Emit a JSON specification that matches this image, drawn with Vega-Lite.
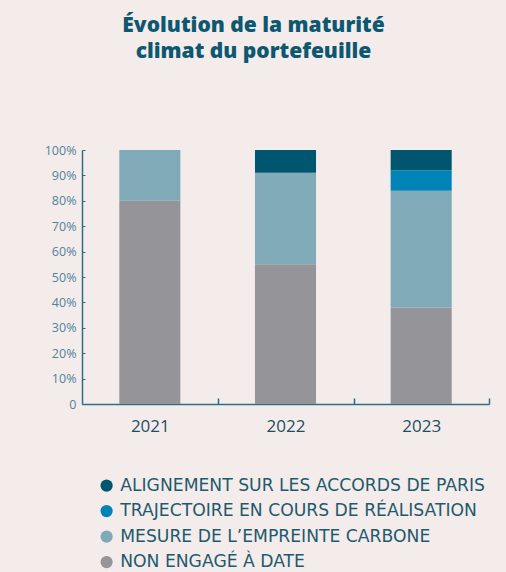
{
  "$schema": "https://vega.github.io/schema/vega-lite/v6.json",
  "autosize": "none",
  "width": 407,
  "height": 254,
  "padding": {"left": 82, "top": 150, "right": 17, "bottom": 168},
  "background": "#f4ecea",
  "title": {
    "text": ["Évolution de la maturité", "climat du portefeuille"],
    "anchor": "middle",
    "dx": -32,
    "offset": 82,
    "fontSize": 21,
    "lineHeight": 26,
    "font": "Open Sans",
    "fontWeight": 800,
    "color": "#0d5870"
  },
  "data": {
    "values": [
      {"annee": "2021", "categorie": "NON ENGAGÉ À DATE", "ordre": 1, "part": 0.80},
      {"annee": "2021", "categorie": "MESURE DE L’EMPREINTE CARBONE", "ordre": 2, "part": 0.20},
      {"annee": "2022", "categorie": "NON ENGAGÉ À DATE", "ordre": 1, "part": 0.55},
      {"annee": "2022", "categorie": "MESURE DE L’EMPREINTE CARBONE", "ordre": 2, "part": 0.36},
      {"annee": "2022", "categorie": "ALIGNEMENT SUR LES ACCORDS DE PARIS", "ordre": 4, "part": 0.09},
      {"annee": "2023", "categorie": "NON ENGAGÉ À DATE", "ordre": 1, "part": 0.38},
      {"annee": "2023", "categorie": "MESURE DE L’EMPREINTE CARBONE", "ordre": 2, "part": 0.46},
      {"annee": "2023", "categorie": "TRAJECTOIRE EN COURS DE RÉALISATION", "ordre": 3, "part": 0.08},
      {"annee": "2023", "categorie": "ALIGNEMENT SUR LES ACCORDS DE PARIS", "ordre": 4, "part": 0.08}
    ]
  },
  "mark": {"type": "bar"},
  "encoding": {
    "x": {
      "field": "annee",
      "type": "nominal",
      "scale": {"paddingInner": 0.55, "paddingOuter": 0.275},
      "axis": {
        "title": null,
        "labelAngle": 0,
        "labelFontSize": 17,
        "labelFont": "Open Sans",
        "labelColor": "#1d4e63",
        "labelPadding": 20,
        "tickOffset": 68,
        "labelOffset": -68,
        "tickSize": -6,
        "tickColor": "#2f6f85",
        "tickWidth": 1.5,
        "domainColor": "#2f6f85",
        "domainWidth": 1.5
      }
    },
    "y": {
      "field": "part",
      "type": "quantitative",
      "stack": "zero",
      "scale": {"domain": [0, 1]},
      "axis": {
        "title": null,
        "values": [0, 0.1, 0.2, 0.3, 0.4, 0.5, 0.6, 0.7, 0.8, 0.9, 1],
        "labelExpr": "datum.value == 0 ? '0' : format(datum.value, '.0%')",
        "labelFontSize": 12.5,
        "labelFont": "Open Sans",
        "labelColor": "#4f8499",
        "labelPadding": 9,
        "tickSize": -3,
        "tickColor": "#2f6f85",
        "tickWidth": 1,
        "domainColor": "#2f6f85",
        "domainWidth": 1.5,
        "grid": false
      }
    },
    "color": {
      "field": "categorie",
      "type": "nominal",
      "scale": {
        "domain": ["ALIGNEMENT SUR LES ACCORDS DE PARIS", "TRAJECTOIRE EN COURS DE RÉALISATION", "MESURE DE L’EMPREINTE CARBONE", "NON ENGAGÉ À DATE"],
        "range": ["#00566e", "#0083b6", "#80aab8", "#959599"]
      },
      "legend": {
        "title": null,
        "orient": "none",
        "legendX": 16,
        "legendY": 327,
        "symbolType": "circle",
        "symbolSize": 150,
        "symbolStrokeWidth": 0,
        "labelFontSize": 17.2,
        "labelFont": "DejaVu Sans",
        "labelColor": "#1d5a6d",
        "labelOffset": 5,
        "rowPadding": 7.5,
        "labelLimit": 450
      }
    },
    "order": {"field": "ordre", "type": "quantitative", "sort": "ascending"}
  },
  "config": {"view": {"stroke": null}}
}
